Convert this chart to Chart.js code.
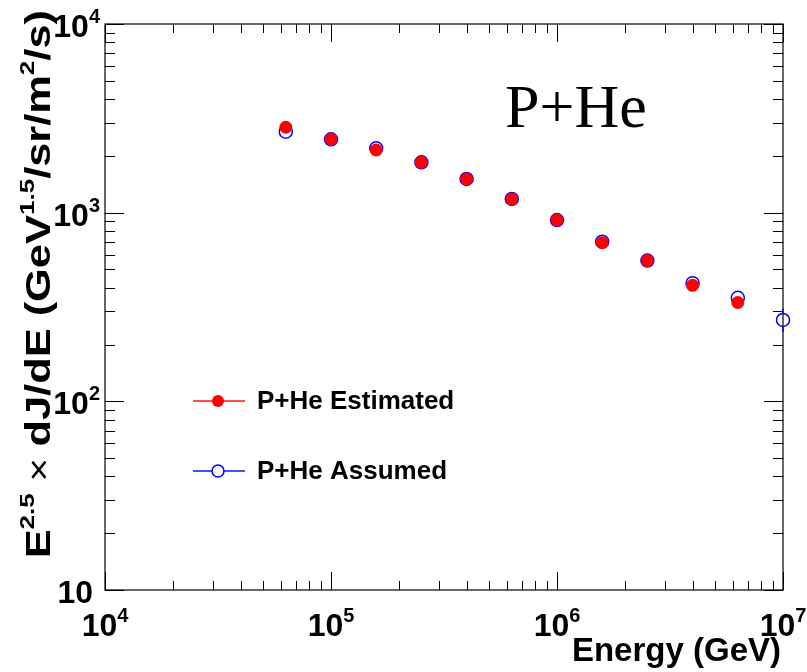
<!DOCTYPE html>
<html lang="en">
<head>
<meta charset="UTF-8">
<title>P+He spectrum</title>
<script src="https://cdn.jsdelivr.net/npm/chart.js@4.4.1/dist/chart.umd.min.js"></script>
<style>
  body { margin: 0; background: #fff; }
</style>
</head>
<body>
<canvas id="chart" width="807" height="672"></canvas>
<script>
// energies in GeV (log10 E = 4.8 ... 7.0, step 0.2)
const energyEstimated = [6.31e4, 1.0e5, 1.585e5, 2.512e5, 3.981e5, 6.31e5, 1.0e6, 1.585e6, 2.512e6, 3.981e6, 6.31e6];
const fluxEstimated   = [2837, 2449, 2148, 1849, 1510, 1183, 914, 693, 557, 412, 334];

const energyAssumed = [6.31e4, 1.0e5, 1.585e5, 2.512e5, 3.981e5, 6.31e5, 1.0e6, 1.585e6, 2.512e6, 3.981e6, 6.31e6, 1.0e7];
const fluxAssumed   = [2687, 2449, 2193, 1849, 1510, 1183, 914, 702, 557, 423, 354, 270];
const errLowAssumed  = [0, 0, 0, 0, 0, 0, 0, 0, 0, 0, 0, 233];
const errHighAssumed = [0, 0, 0, 0, 0, 0, 0, 0, 0, 0, 0, 310];

const xTicks = [1e4, 1e5, 1e6, 1e7];
const xTickLabels = [['10', '4'], ['10', '5'], ['10', '6'], ['10', '7']];
const yTicks = [10, 100, 1000, 10000];
const yTickLabels = [['10', ''], ['10', '2'], ['10', '3'], ['10', '4']];

const SANS = '"Liberation Sans", Arial, Helvetica, sans-serif';

// draw text pieces [text, font, dy] one after another
function drawPieces(ctx, pieces, x, y, align) {
  let total = 0;
  pieces.forEach(p => { ctx.font = p[1]; total += ctx.measureText(p[0]).width; });
  let cx = align === 'right' ? x - total : align === 'center' ? x - total / 2 : x;
  pieces.forEach(p => {
    ctx.font = p[1];
    ctx.fillText(p[0], cx, y + (p[2] || 0));
    cx += ctx.measureText(p[0]).width;
  });
}

function minorValues(min, max) {
  const out = [];
  for (let d = Math.log10(min); d < Math.log10(max); d++) {
    for (let m = 2; m <= 9; m++) out.push(m * Math.pow(10, d));
  }
  return out;
}

const frame = {
  id: 'frame',
  beforeDatasetsDraw(chart) {
    const { ctx, chartArea: a, scales: { x, y } } = chart;
    ctx.save();
    ctx.strokeStyle = '#000';
    ctx.lineWidth = 1.2;
    ctx.strokeRect(a.left, a.top, a.right - a.left, a.bottom - a.top);
    ctx.lineWidth = 1;
    ctx.beginPath();
    const xt = xTicks.map(v => [v, 18]).concat(minorValues(1e4, 1e7).map(v => [v, 9]));
    xt.forEach(([v, len]) => {
      const px = Math.round(x.getPixelForValue(v)) + 0.5;
      ctx.moveTo(px, a.bottom); ctx.lineTo(px, a.bottom - len);
      ctx.moveTo(px, a.top); ctx.lineTo(px, a.top + len);
    });
    const yt = yTicks.map(v => [v, 19]).concat(minorValues(10, 1e4).map(v => [v, 10]));
    yt.forEach(([v, len]) => {
      const py = Math.round(y.getPixelForValue(v)) + 0.5;
      ctx.moveTo(a.left, py); ctx.lineTo(a.left + len, py);
      ctx.moveTo(a.right, py); ctx.lineTo(a.right - len, py);
    });
    ctx.stroke();
    ctx.restore();
  },
  afterDatasetsDraw(chart) {
    const { ctx, scales: { x, y } } = chart;
    ctx.save();
    // error bars of assumed series
    ctx.strokeStyle = '#0000ff';
    ctx.lineWidth = 1.5;
    fluxAssumed.forEach((v, i) => {
      if (!errHighAssumed[i]) return;
      const px = x.getPixelForValue(energyAssumed[i]);
      ctx.beginPath();
      ctx.moveTo(px, y.getPixelForValue(errHighAssumed[i]));
      ctx.lineTo(px, y.getPixelForValue(v) - 6.5);
      ctx.moveTo(px, y.getPixelForValue(v) + 6.5);
      ctx.lineTo(px, y.getPixelForValue(errLowAssumed[i]));
      ctx.stroke();
    });

    ctx.fillStyle = '#000';
    ctx.textBaseline = 'alphabetic';
    const big = 'bold 32px ' + SANS, sup = 'bold 20px ' + SANS;
    xTicks.forEach((v, i) => {
      const px = x.getPixelForValue(v);
      drawPieces(ctx, [[xTickLabels[i][0], big], [xTickLabels[i][1], sup, -14]], px, 636, 'center');
    });
    yTicks.forEach((v, i) => {
      const py = y.getPixelForValue(v);
      const pieces = [[yTickLabels[i][0], big]];
      if (yTickLabels[i][1]) pieces.push([yTickLabels[i][1], sup, -14]);
      drawPieces(ctx, pieces, yTickLabels[i][1] ? 100 : 93, py + 13, 'right');
    });

    // axis titles
    ctx.font = 'bold 33px ' + SANS;
    ctx.textAlign = 'right';
    ctx.fillText('Energy (GeV)', 781, 661);
    ctx.textAlign = 'left';

    ctx.save();
    ctx.translate(50, 10);
    ctx.rotate(-Math.PI / 2);
    ctx.scale(1.24, 1);
    const t = 'bold 35px ' + SANS, ts = 'bold 21px ' + SANS, tx = '33px ' + SANS;
    drawPieces(ctx, [
      ['E', t], ['2.5', ts, -16], [' \u00d7 ', tx], ['dJ/dE (GeV', t], ['1.5', ts, -16],
      ['/sr/m', t], ['2', ts, -16], ['/s)', t]
    ], 0, 0, 'right');
    ctx.restore();

    // label inside the frame
    ctx.font = '62px "Liberation Serif", "Times New Roman", serif';
    ctx.fillText('P+He', 505, 127);

    // legend
    const rows = [
      { ds: chart.data.datasets[0], y: 401, line: '#ff4d4d' },
      { ds: chart.data.datasets[1], y: 471, line: '#4d4dff' }
    ];
    rows.forEach(r => {
      ctx.strokeStyle = r.line;
      ctx.lineWidth = 2;
      ctx.beginPath();
      ctx.moveTo(193, r.y); ctx.lineTo(245, r.y);
      ctx.stroke();
      ctx.beginPath();
      ctx.arc(218, r.y, 6, 0, Math.PI * 2);
      if (r.ds.backgroundColor !== 'rgba(0,0,0,0)') {
        ctx.fillStyle = r.ds.backgroundColor; ctx.fill();
      } else {
        ctx.fillStyle = '#fff'; ctx.fill();
        ctx.strokeStyle = r.ds.borderColor; ctx.lineWidth = 1.5; ctx.stroke();
      }
      ctx.fillStyle = '#000';
      ctx.font = 'bold 26px ' + SANS;
      ctx.textBaseline = 'middle';
      ctx.fillText(r.ds.label, 257, r.y + 1);
      ctx.textBaseline = 'alphabetic';
    });
    ctx.restore();
  }
};

new Chart(document.getElementById('chart'), {
  type: 'scatter',
  data: {
    datasets: [
      {
        label: 'P+He Estimated',
        data: energyEstimated.map((e, i) => ({ x: e, y: fluxEstimated[i] })),
        backgroundColor: '#ff0000',
        borderColor: '#ff0000',
        borderWidth: 0,
        pointRadius: 6.5,
        clip: false
      },
      {
        label: 'P+He Assumed',
        data: energyAssumed.map((e, i) => ({ x: e, y: fluxAssumed[i] })),
        backgroundColor: 'rgba(0,0,0,0)',
        borderColor: '#0000ff',
        borderWidth: 1.5,
        pointRadius: 6.5,
        clip: false
      }
    ]
  },
  options: {
    responsive: false,
    animation: false,
    layout: { padding: { left: 105, right: 24, top: 24, bottom: 82 } },
    plugins: { legend: { display: false }, tooltip: { enabled: false } },
    scales: {
      x: { type: 'logarithmic', min: 1e4, max: 1e7, display: false },
      y: { type: 'logarithmic', min: 10, max: 1e4, display: false }
    }
  },
  plugins: [frame]
});
</script>
</body>
</html>
